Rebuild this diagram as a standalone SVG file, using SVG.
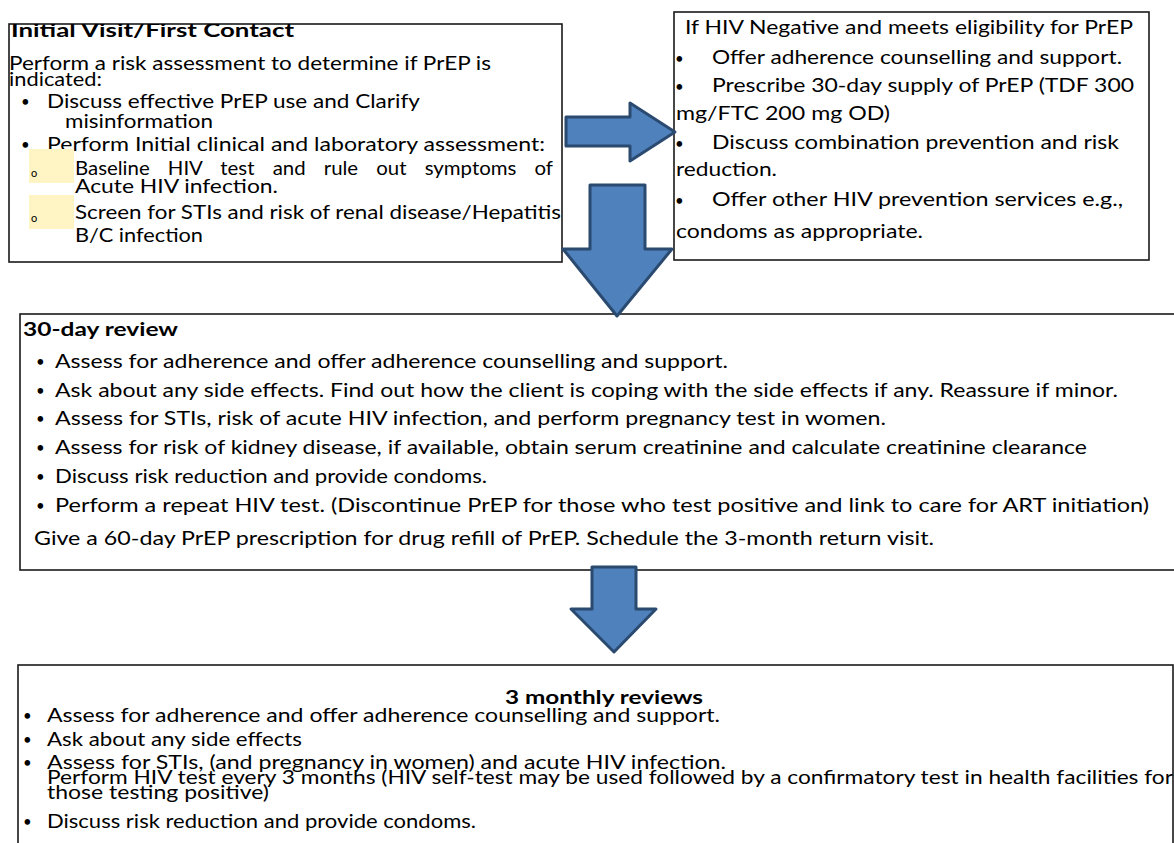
<svg xmlns="http://www.w3.org/2000/svg" width="1174" height="843" viewBox="0 0 1174 843">
<style>
  text { font-family: Lato, "Liberation Sans", sans-serif; font-size: 19px; fill: #000; }
  .b { font-weight: bold; }
  .dot { font-size: 15px; }
  .o { font-size: 11px; }
  .box { fill: #fff; stroke: #1a1a1a; stroke-width: 1.6; }
  .hl { fill: #fff4c3; }
  .arrow { fill: #4f81bd; stroke: #2b4a70; stroke-width: 3; stroke-linejoin: round; }
</style>
<defs>
  <clipPath id="c1"><rect x="9" y="24" width="553" height="238"/></clipPath>
</defs>
<rect width="1174" height="843" fill="#fff"/>

<g id="initial-visit">
  <rect class="box" x="9" y="24" width="553" height="238"/>
  <g clip-path="url(#c1)">
    <text class="b" x="11" y="37" textLength="283" lengthAdjust="spacingAndGlyphs">Initial Visit/First Contact</text>
    <text x="9" y="70" textLength="482" lengthAdjust="spacingAndGlyphs">Perform a risk assessment to determine if PrEP is</text>
    <text x="9" y="86" textLength="93" lengthAdjust="spacingAndGlyphs">indicated:</text>
    <text class="dot" x="21" y="107">•</text>
    <text x="47" y="108" textLength="373" lengthAdjust="spacingAndGlyphs">Discuss effective PrEP use and Clarify</text>
    <text x="65" y="128" textLength="148" lengthAdjust="spacingAndGlyphs">misinformation</text>
    <text class="dot" x="21" y="150">•</text>
    <text x="47" y="151" textLength="498" lengthAdjust="spacingAndGlyphs">Perform Initial clinical and laboratory assessment:</text>
    <rect class="hl" x="29" y="149" width="45" height="34"/>
    <rect class="hl" x="29" y="195" width="45" height="34"/>
    <text class="o" x="31" y="177">o</text>
    <text x="75" y="175" word-spacing="12" textLength="478" lengthAdjust="spacingAndGlyphs">Baseline HIV test and rule out symptoms of</text>
    <text x="75" y="193" textLength="203" lengthAdjust="spacingAndGlyphs">Acute HIV infection.</text>
    <text class="o" x="31" y="222">o</text>
    <text x="75" y="219" textLength="486" lengthAdjust="spacingAndGlyphs">Screen for STIs and risk of renal disease/Hepatitis</text>
    <text x="75" y="242" textLength="128" lengthAdjust="spacingAndGlyphs">B/C infection</text>
  </g>
</g>

<g id="eligible">
  <rect class="box" x="674" y="12" width="475" height="248" stroke="#333"/>
  <text x="685" y="34" textLength="448" lengthAdjust="spacingAndGlyphs">If HIV Negative and meets eligibility for PrEP</text>
  <text class="dot" x="675" y="64">•</text>
  <text x="712" y="64" textLength="410" lengthAdjust="spacingAndGlyphs">Offer adherence counselling and support.</text>
  <text class="dot" x="675" y="92">•</text>
  <text x="712" y="92" textLength="422" lengthAdjust="spacingAndGlyphs">Prescribe 30-day supply of PrEP (TDF 300</text>
  <text x="676" y="120" textLength="214" lengthAdjust="spacingAndGlyphs">mg/FTC 200 mg OD)</text>
  <text class="dot" x="675" y="149">•</text>
  <text x="712" y="149" textLength="407" lengthAdjust="spacingAndGlyphs">Discuss combination prevention and risk</text>
  <text x="676" y="176" textLength="101" lengthAdjust="spacingAndGlyphs">reduction.</text>
  <text class="dot" x="675" y="206">•</text>
  <text x="712" y="206" textLength="411" lengthAdjust="spacingAndGlyphs">Offer other HIV prevention services e.g.,</text>
  <text x="676" y="238" textLength="247" lengthAdjust="spacingAndGlyphs">condoms as appropriate.</text>
</g>

<g id="review-30-day">
  <rect class="box" x="20" y="314" width="1170" height="256"/>
  <text class="b" x="23" y="336" textLength="155" lengthAdjust="spacingAndGlyphs">30-day review</text>
  <text class="dot" x="36" y="367">•</text>
  <text x="55" y="368" textLength="673" lengthAdjust="spacingAndGlyphs">Assess for adherence and offer adherence counselling and support.</text>
  <text class="dot" x="36" y="396">•</text>
  <text x="55" y="397" textLength="1063" lengthAdjust="spacingAndGlyphs">Ask about any side effects. Find out how the client is coping with the side effects if any. Reassure if minor.</text>
  <text class="dot" x="36" y="424">•</text>
  <text x="55" y="425" textLength="831" lengthAdjust="spacingAndGlyphs">Assess for STIs, risk of acute HIV infection, and perform pregnancy test in women.</text>
  <text class="dot" x="36" y="453">•</text>
  <text x="55" y="454" textLength="1032" lengthAdjust="spacingAndGlyphs">Assess for risk of kidney disease, if available, obtain serum creatinine and calculate creatinine clearance</text>
  <text class="dot" x="36" y="482">•</text>
  <text x="55" y="483" textLength="432" lengthAdjust="spacingAndGlyphs">Discuss risk reduction and provide condoms.</text>
  <text class="dot" x="36" y="511">•</text>
  <text x="55" y="512" textLength="1094" lengthAdjust="spacingAndGlyphs">Perform a repeat HIV test. (Discontinue PrEP for those who test positive and link to care for ART initiation)</text>
  <text x="34" y="545" textLength="900" lengthAdjust="spacingAndGlyphs">Give a 60-day PrEP prescription for drug refill of PrEP. Schedule the 3-month return visit.</text>
</g>

<g id="reviews-3-monthly">
  <rect class="box" x="18" y="665" width="1155" height="190"/>
  <text class="b" x="505" y="704" textLength="198" lengthAdjust="spacingAndGlyphs">3 monthly reviews</text>
  <text class="dot" x="23" y="721">•</text>
  <text x="47" y="722" textLength="673" lengthAdjust="spacingAndGlyphs">Assess for adherence and offer adherence counselling and support.</text>
  <text class="dot" x="23" y="745">•</text>
  <text x="47" y="746" textLength="255" lengthAdjust="spacingAndGlyphs">Ask about any side effects</text>
  <text class="dot" x="23" y="768">•</text>
  <text x="47" y="769" textLength="679" lengthAdjust="spacingAndGlyphs">Assess for STIs, (and pregnancy in women) and acute HIV infection.</text>
  <text x="47" y="784" textLength="1126" lengthAdjust="spacingAndGlyphs">Perform HIV test every 3 months (HIV self-test may be used followed by a confirmatory test in health facilities for</text>
  <text x="47" y="799" textLength="222" lengthAdjust="spacingAndGlyphs">those testing positive)</text>
  <text class="dot" x="23" y="827">•</text>
  <text x="47" y="828" textLength="429" lengthAdjust="spacingAndGlyphs">Discuss risk reduction and provide condoms.</text>
</g>

<g id="connectors">
  <polygon class="arrow" points="566,117 630,117 630,103 675,132 630,161 630,146 566,146"/>
  <polygon class="arrow" points="590,185 645,185 645,249 672,249 617,316 563,249 590,249"/>
  <polygon class="arrow" points="592,567 636,567 636,609 656,609 614,652 571,609 592,609"/>
</g>
</svg>
